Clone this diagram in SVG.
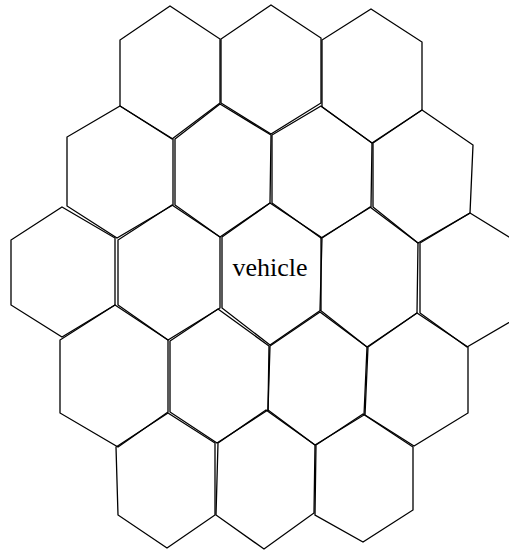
<svg xmlns="http://www.w3.org/2000/svg" width="509" height="550" viewBox="0 0 509 550">
<style>
.hex{fill:none;stroke:#000;stroke-width:1.3;stroke-linejoin:miter}
.lbl{font-family:"Liberation Serif","Times New Roman",serif;font-size:26px;fill:#000;text-anchor:middle}
</style>
<rect width="509" height="550" fill="#fff"/>
<g id="hex-A"><polygon class="hex" points="170,6 220,39 220,103 172,139 120,106 120,40"/></g>
<g id="hex-B"><polygon class="hex" points="271,5 321,38 321,103 271,134 221,103 221,39"/></g>
<g id="hex-C"><polygon class="hex" points="371,9 422,42 422,110 372,143 322,107 322,40"/></g>
<g id="hex-D"><polygon class="hex" points="120,106 173,139 173,205 117,238 67,206 67,137"/></g>
<g id="hex-E"><polygon class="hex" points="220,104 271,135 270,203 220,237 175,205 175,139"/></g>
<g id="hex-F"><polygon class="hex" points="321,106 372,143 371,207 321,238 272,203 272,135"/></g>
<g id="hex-I"><polygon class="hex" points="422,110 473,145 470,213 418,243 373,207 373,143"/></g>
<g id="hex-G"><polygon class="hex" points="62,207 115,238 115,305 62,337 11,305 11,240"/></g>
<g id="hex-H"><polygon class="hex" points="172,205 220,237 220,308 168,340 118,305 118,240"/></g>
<g id="hex-vehicle"><polygon class="hex" points="270,203 321,237 321,310 270,345 222,308 222,237"/><text class="lbl" x="270" y="276">vehicle</text></g>
<g id="hex-P"><polygon class="hex" points="370,207 418,243 417,313 367,347 320,310 322,238"/></g>
<g id="hex-N"><polygon class="hex" points="470,213 522,245 522,315 467,347 420,313 420,243"/></g>
<g id="hex-J"><polygon class="hex" points="115,305 168,340 168,412 118,447 60,413 60,340"/></g>
<g id="hex-K"><polygon class="hex" points="218,309 269,346 268,410 217,443 170,412 170,341"/></g>
<g id="hex-Q"><polygon class="hex" points="320,312 367,347 364,415 315,445 268,410 270,346"/></g>
<g id="hex-R"><polygon class="hex" points="417,313 468,347 468,413 414,446 365,415 368,347"/></g>
<g id="hex-M"><polygon class="hex" points="168,413 215,443 215,515 167,548 118,515 116,447"/></g>
<g id="hex-S"><polygon class="hex" points="266,410 315,445 314,513 264,549 216,515 218,443"/></g>
<g id="hex-T"><polygon class="hex" points="363,414 413,447 413,510 363,542 315,515 316,445"/></g>
<g id="connectors"/>
</svg>
